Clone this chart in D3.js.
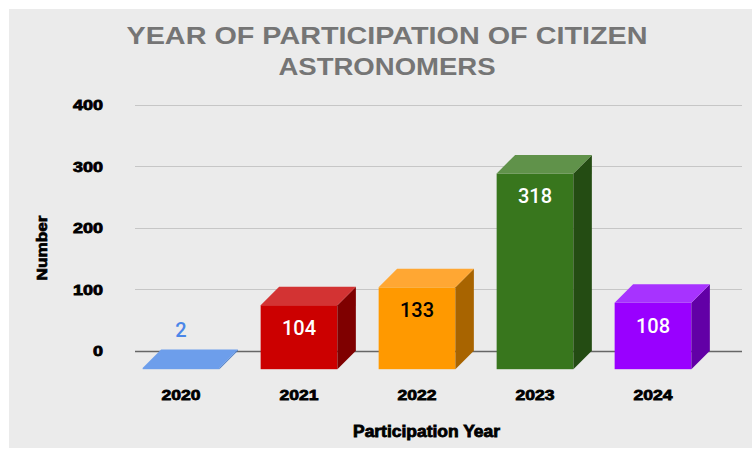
<!DOCTYPE html>
<html>
<head>
<meta charset="utf-8">
<script src="https://cdn.jsdelivr.net/npm/d3@7"></script>
<style>
  html, body { margin: 0; padding: 0; background: #fff; }
  svg { display: block; }
</style>
</head>
<body>
<svg id="chart"></svg>
<script>
(function () {

  var width = 752, height = 449;

  // data
  var years = ['2020', '2021', '2022', '2023', '2024'];
  var counts = [2, 104, 133, 318, 108];
  var yTicks = [0, 100, 200, 300, 400];

  // colours per bar: front, top, side, label
  var frontColors = ['#6d9eeb', '#cc0000', '#ff9900', '#38761d', '#9900ff'];
  var topColors   = ['#6d9eeb', '#d33333', '#ffa733', '#60924a', '#a733ff'];
  var sideColors  = ['#4a7bc4', '#7f0000', '#a86400', '#244c13', '#6200a6'];
  var labelColors = ['#4a86e8', '#ffffff', '#000000', '#ffffff', '#ffffff'];

  var svg = d3.select('#chart')
    .attr('width', width)
    .attr('height', height);

  svg.append('rect')
    .attr('x', 9).attr('y', 9)
    .attr('width', width - 9).attr('height', height - 10)
    .attr('fill', '#ebebeb');

  // 3d depth offset (back plane is up and right of the front)
  var dx = 18.5, dy = 18.5;

  var y = d3.scaleLinear().domain([0, 400]).range([350.7, 104.5]);

  var x = d3.scaleBand()
    .domain(years)
    .range([122, 712])
    .paddingInner(0.35)
    .paddingOuter(0.175);

  var boldFont = 'Liberation Sans, Arial, sans-serif';

  // gridlines on the back plane
  svg.append('g')
    .selectAll('line')
    .data(yTicks)
    .join('line')
    .attr('x1', 135).attr('x2', 742)
    .attr('y1', function (d) { return Math.round(y(d)) + 0.5; })
    .attr('y2', function (d) { return Math.round(y(d)) + 0.5; })
    .attr('stroke', function (d) { return d === 0 ? '#666' : '#c6c6c6'; })
    .attr('stroke-width', function (d) { return d === 0 ? 1.3 : 1; });

  // y tick labels
  svg.append('g')
    .selectAll('text')
    .data(yTicks)
    .join('text')
    .attr('x', 103)
    .attr('y', function (d) { return y(d) + 5.5; })
    .attr('text-anchor', 'end')
    .attr('font-family', boldFont)
    .attr('font-weight', 'bold')
    .attr('font-size', 15)
    .attr('stroke', '#000')
    .attr('stroke-width', 0.8)
    .attr('fill', '#000')
    .attr('textLength', function (d) { return String(d).length * 10; })
    .attr('lengthAdjust', 'spacingAndGlyphs')
    .text(function (d) { return d; });

  var data = years.map(function (yr, i) { return { year: yr, value: counts[i], i: i }; });
  var bw = x.bandwidth();
  var y0f = y(0) + dy;

  var bars = svg.append('g').selectAll('g')
    .data(data)
    .join('g');

  // front face
  bars.append('rect')
    .attr('x', function (d) { return x(d.year); })
    .attr('y', function (d) { return y(d.value) + dy; })
    .attr('width', bw)
    .attr('height', function (d) { return y0f - (y(d.value) + dy); })
    .attr('fill', function (d) { return frontColors[d.i]; });

  // side face
  bars.append('polygon')
    .attr('points', function (d) {
      var xr = x(d.year) + bw, yt = y(d.value) + dy;
      return [[xr, yt], [xr + dx, yt - dy], [xr + dx, y0f - dy], [xr, y0f]].join(' ');
    })
    .attr('fill', function (d) { return sideColors[d.i]; });

  // top face
  bars.append('polygon')
    .attr('points', function (d) {
      var xl = x(d.year), yt = y(d.value) + dy;
      return [[xl, yt], [xl + dx, yt - dy], [xl + bw + dx, yt - dy], [xl + bw, yt]].join(' ');
    })
    .attr('fill', function (d) { return topColors[d.i]; });

  // value labels
  bars.append('text')
    .attr('x', function (d) { return x(d.year) + bw / 2; })
    .attr('y', function (d) {
      var hFront = y0f - (y(d.value) + dy);
      return hFront > 30 ? y(d.value) + dy + 30 : y(d.value) - 12;
    })
    .attr('text-anchor', 'middle')
    .attr('font-family', 'Roboto, sans-serif')
    .attr('font-weight', 500)
    .attr('font-size', 20)
    .attr('fill', function (d) { return labelColors[d.i]; })
    .text(function (d) { return d.value; });

  // x tick labels
  svg.append('g')
    .selectAll('text')
    .data(years)
    .join('text')
    .attr('x', function (d) { return x(d) + bw / 2; })
    .attr('y', 400)
    .attr('text-anchor', 'middle')
    .attr('font-family', boldFont)
    .attr('font-weight', 'bold')
    .attr('font-size', 15)
    .attr('stroke', '#000')
    .attr('stroke-width', 0.8)
    .attr('fill', '#000')
    .attr('textLength', 39)
    .attr('lengthAdjust', 'spacingAndGlyphs')
    .text(function (d) { return d; });

  // axis titles
  svg.append('text')
    .attr('x', 426.5)
    .attr('y', 437)
    .attr('text-anchor', 'middle')
    .attr('font-family', boldFont)
    .attr('font-weight', 'bold')
    .attr('font-size', 16)
    .attr('stroke', '#000')
    .attr('stroke-width', 0.8)
    .attr('textLength', 147)
    .attr('lengthAdjust', 'spacingAndGlyphs')
    .text('Participation Year');

  svg.append('text')
    .attr('transform', 'translate(46.5,248) rotate(-90)')
    .attr('text-anchor', 'middle')
    .attr('font-family', boldFont)
    .attr('font-weight', 'bold')
    .attr('font-size', 15.5)
    .attr('stroke', '#000')
    .attr('stroke-width', 0.7)
    .attr('textLength', 65)
    .attr('lengthAdjust', 'spacingAndGlyphs')
    .text('Number');

  // title
  var titleLines = ['YEAR OF PARTICIPATION OF CITIZEN', 'ASTRONOMERS'];
  var titleWidths = [521, 217];
  svg.append('g')
    .selectAll('text')
    .data(titleLines)
    .join('text')
    .attr('x', 387)
    .attr('y', function (d, i) { return 44.3 + i * 30.7; })
    .attr('text-anchor', 'middle')
    .attr('font-family', boldFont)
    .attr('font-weight', 'bold')
    .attr('font-size', 24.5)
    .attr('fill', '#757575')
    .attr('textLength', function (d, i) { return titleWidths[i]; })
    .attr('lengthAdjust', 'spacingAndGlyphs')
    .text(function (d) { return d; });

})();
</script>
</body>
</html>
